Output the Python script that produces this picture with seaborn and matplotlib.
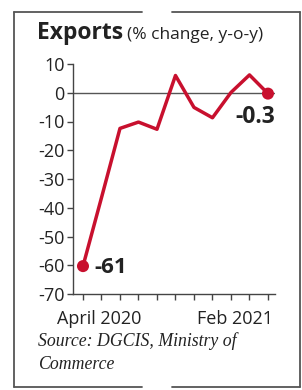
import matplotlib
matplotlib.use("Agg")
import matplotlib.pyplot as plt
import matplotlib.transforms as mtransforms
from matplotlib.lines import Line2D
import seaborn as sns
import pandas as pd

months = ["Apr 2020", "May 2020", "Jun 2020", "Jul 2020", "Aug 2020", "Sep 2020",
          "Oct 2020", "Nov 2020", "Dec 2020", "Jan 2021", "Feb 2021"]
exports_change = [-60.3, -36.5, -12.4, -10.2, -12.7, 6.0, -5.1, -8.7, 0.1, 6.2, -0.3]
y_ticks = [10, 0, -10, -20, -30, -40, -50, -60, -70]
first_label = "April 2020"
last_label = "Feb 2021"
first_value_label = "-61"
last_value_label = "-0.3"

sns.set_style("white")
plt.rcParams['font.family'] = ['Open Sans', 'DejaVu Sans']

df = pd.DataFrame({"idx": list(range(len(months))), "month": months, "value": exports_change})

RED = "#c8102e"
DARK = "#222222"

fig = plt.figure(figsize=(3.02, 3.90), dpi=100)
ax = fig.add_axes([73/302, 1-294/390, (275-73)/302, (294-64)/390])

ax.axhline(0, color="#555555", lw=1.0, zorder=1)
sns.lineplot(data=df, x="idx", y="value", ax=ax, color=RED, lw=2.5, zorder=3)
ends = df.iloc[[0, -1]]
sns.scatterplot(data=ends, x="idx", y="value", ax=ax, color=RED, s=75,
                edgecolor="none", zorder=4)

ax.set_xlim(-0.54, 10.38)
ax.set_ylim(-70, 10)
ax.set_yticks(y_ticks)
ax.set_yticklabels([str(t) for t in y_ticks], fontsize=13, color=DARK)
ax.set_xticks(df["idx"])
ax.set_xticklabels([""] * len(months))
ax.set_xlabel("")
ax.set_ylabel("")

for s in ["top", "right"]:
    ax.spines[s].set_visible(False)
for s in ["left", "bottom"]:
    ax.spines[s].set_color("#444444")
    ax.spines[s].set_linewidth(1.0)
ax.tick_params(axis="y", length=4, width=1.0, color="#444444", pad=2, left=True)
ax.tick_params(axis="x", length=4, width=1.0, color="#444444", bottom=True)

trans = mtransforms.blended_transform_factory(ax.transData, ax.transAxes)
ax.text(0.86, -0.13, first_label, transform=trans, ha="center", va="baseline",
        fontsize=13, color=DARK)
ax.text(8.22, -0.13, last_label, transform=trans, ha="center", va="baseline",
        fontsize=13, color=DARK)

ax.annotate(first_value_label, (ends["idx"].iloc[0], ends["value"].iloc[0]),
            xytext=(8, -1), textcoords="offset points", ha="left", va="center",
            fontsize=16, fontweight="bold", color=DARK)
ax.annotate(last_value_label, (ends["idx"].iloc[1], ends["value"].iloc[1]),
            xytext=(5, -17), textcoords="offset points", ha="right", va="center",
            fontsize=16.5, fontweight="bold", color=DARK)

# title
fig.text(37/302, 1-39/390, "Exports", fontsize=16.5, fontweight="bold", color=DARK,
         ha="left", va="baseline")
fig.text(127/302, 1-39/390, "(% change, y-o-y)", fontsize=12.5, color=DARK,
         ha="left", va="baseline")

# source
fig.text(38/302, 1-346/390, "Source: DGCIS, Ministry of", fontsize=12.8, style="italic",
         family="Liberation Serif", color=DARK, ha="left", va="baseline")
fig.text(38/302, 1-369/390, "Commerce", fontsize=12.8, style="italic",
         family="Liberation Serif", color=DARK, ha="left", va="baseline")

# frame with gaps at top and bottom center
bc = "#555555"
blw = 1.3
def fx(px): return px/302
def fy(py): return 1-py/390
segs = [
    ([14, 142], [12, 12]), ([172, 300], [12, 12]),
    ([14, 142], [387, 387]), ([172, 300], [387, 387]),
    ([14, 14], [12, 387]), ([300, 300], [12, 387]),
]
for xs, ys in segs:
    fig.add_artist(Line2D([fx(x) for x in xs], [fy(y) for y in ys], color=bc, lw=blw,
                          transform=fig.transFigure))

fig.savefig("out.png", dpi=100)
